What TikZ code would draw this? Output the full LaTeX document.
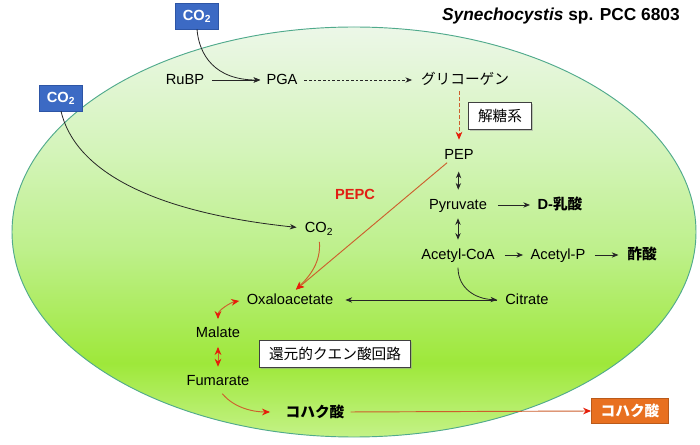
\documentclass[tikz,border=0pt]{standalone}
\usepackage{fontspec}
\setmainfont{Liberation Sans}
\newfontfamily\jpf{Noto Sans CJK JP}
\usetikzlibrary{arrows.meta,shadows}
\definecolor{cT}{RGB}{236,247,232}
\definecolor{cU}{RGB}{212,244,186}
\definecolor{cL}{RGB}{190,240,140}
\definecolor{cM}{RGB}{158,232,58}
\definecolor{cB}{RGB}{196,242,135}
\definecolor{cellborder}{RGB}{80,170,140}
\definecolor{co2blue}{RGB}{60,106,196}
\definecolor{co2border}{RGB}{45,85,165}
\definecolor{sucorange}{RGB}{232,112,32}
\definecolor{orangeline}{RGB}{205,95,45}
\definecolor{redtip}{RGB}{230,30,10}
\definecolor{pepcred}{RGB}{225,30,20}
\pgfdeclareverticalshading{cellshade}{100bp}{color(0bp)=(cB); color(25bp)=(cB); color(34bp)=(cM); color(48bp)=(cL); color(60bp)=(cU); color(75bp)=(cT); color(100bp)=(cT)}
\begin{document}
\begin{tikzpicture}[x=0.75pt,y=-0.75pt,
  font=\fontsize{11}{13}\selectfont,
  lbl/.style={inner sep=1.5pt, text height=8.5pt, text depth=1pt},
  jlbl/.style={lbl, font=\jpf\fontsize{11}{13}\selectfont},
  arr/.style={-{Stealth[length=5pt,width=4pt]}, line width=0.6pt, black!85},
  darr/.style={{Stealth[length=5pt,width=4pt]}-{Stealth[length=5pt,width=4pt]}, line width=0.6pt, black!85},
  rarr/.style={-{Stealth[length=6pt,width=5pt,color=redtip]}, line width=0.7pt, draw=orangeline},
  rdarr/.style={{Stealth[length=6pt,width=5pt,color=redtip]}-{Stealth[length=6pt,width=5pt,color=redtip]}, line width=0.7pt, draw=orangeline},
  co2box/.style={draw=co2border, fill=co2blue, text=white, font=\bfseries\fontsize{11}{13}\selectfont, minimum width=32pt, minimum height=19.5pt, inner sep=0pt},
  jbox/.style={draw=black!75, fill=white, line width=0.6pt, drop shadow={shadow xshift=1pt, shadow yshift=-1pt, fill=black!40}, font=\jpf\fontsize{11}{13}\selectfont, minimum height=20pt, inner sep=2pt}
]
\useasboundingbox (0,0) rectangle (700,445);
\fill[white] (0,0) rectangle (700,445);
% cell
\path[shading=cellshade, draw=cellborder, line width=0.7pt] (354,232) ellipse [x radius=342, y radius=205];

% title
\node[anchor=east, font=\bfseries\fontsize{13}{15}\selectfont, inner sep=0pt] (title) at (680,16) {\textit{Synechocystis} sp. PCC 6803};

% CO2 boxes
\node[co2box] (co2a) at (197,16) {CO\textsubscript{2}};
\node[co2box] (co2b) at (61,98) {CO\textsubscript{2}};

% metabolites
\node[lbl] (rubp) at (185,80) {RuBP};
\node[lbl] (pga) at (282,80) {PGA};
\node[jlbl] (glyc) at (465,80) {グリコーゲン};
\node[jbox, minimum width=47pt] (glyco) at (500,116) {解糖系};
\node[lbl] (pep) at (459,155) {PEP};
\node[lbl] (pyr) at (458,205) {Pyruvate};
\node[lbl, font=\bfseries\fontsize{11}{13}\selectfont] (lac) at (560,205) {D-{\jpf 乳酸}};
\node[lbl] (acoa) at (458,255) {Acetyl-CoA};
\node[lbl] (acp) at (558,255) {Acetyl-P};
\node[jlbl, font=\jpf\bfseries\fontsize{11}{13}\selectfont] (ace) at (642,255) {酢酸};
\node[lbl] (cit) at (527,300) {Citrate};
\node[lbl] (oaa) at (290,300) {Oxaloacetate};
\node[lbl] (co2i) at (319,228) {CO\textsubscript{2}};
\node[lbl, text=pepcred, font=\bfseries\fontsize{11}{13}\selectfont] (pepc) at (355,195) {PEPC};
\node[lbl] (mal) at (218,333) {Malate};
\node[lbl] (fum) at (218,380) {Fumarate};
\node[jlbl, font=\jpf\bfseries\fontsize{11}{13}\selectfont] (suc) at (315,412) {コハク酸};
\node[jbox, minimum width=113pt] (rtca) at (335,354) {還元的クエン酸回路};
\node[draw=sucorange!80!black, fill=sucorange, text=white, font=\jpf\bfseries\fontsize{11}{13}\selectfont, minimum width=58pt, minimum height=19pt, inner sep=0pt] (sucbox) at (630,411) {コハク酸};

% Calvin cycle
\draw[arr, shorten <=4pt, shorten >=3pt] (rubp.east) -- (pga.west);
\draw[arr, shorten >=3pt] (co2a.south) .. controls (199,55) and (215,80) .. (pga.west);
\draw[arr, dash pattern=on 2pt off 1.5pt, shorten <=3.5pt, shorten >=5pt] (pga.east) -- (glyc.west);
\draw[rarr, dash pattern=on 3pt off 1.5pt, shorten <=2pt, shorten >=5pt] (glyc.south -| pep) -- (pep.north);

% glycolysis
\draw[darr, shorten <=6pt, shorten >=5pt] (pep.south) -- (pyr.north);
\draw[darr, shorten <=3.5pt, shorten >=5pt] (pyr.south) -- (acoa.north);
\draw[arr, shorten <=6.5pt, shorten >=4pt] (pyr.east) -- (lac.west);
\draw[arr, shorten <=6pt, shorten >=4pt] (acoa.east) -- (acp.west);
\draw[arr, shorten <=5.5pt, shorten >=5pt] (acp.east) -- (ace.west);
\draw[arr, shorten <=3pt, shorten >=4.5pt] (acoa.south) .. controls (458,288) and (475,299) .. (cit.west);
\draw[arr, shorten <=4.5pt, shorten >=7.5pt] (cit.west) -- (oaa.east);

% CO2 fixation
\draw[arr, shorten >=4.5pt] (co2b.south) .. controls (75,170) and (150,212) .. (co2i.west);
\draw[rarr, shorten <=-1pt, shorten >=2pt] ([xshift=3pt]pep.south west) -- ([xshift=3pt]oaa.north);
\draw[rarr, shorten <=4pt, shorten >=2pt] (co2i.south) .. controls (321,262) and (310,276) .. ([xshift=3pt]oaa.north);

% reductive TCA
\draw[rdarr, shorten <=4pt, shorten >=4pt] (mal.north) to[out=90, in=190] (oaa.west);
\draw[rdarr, shorten <=4pt, shorten >=3.5pt] (mal.south) -- (fum.north);
\draw[rarr, shorten <=5pt, shorten >=10pt] (fum.south) to[out=-50, in=180] (suc.west);
\draw[rarr, shorten <=3pt] (suc.east) -- (sucbox.west);
\end{tikzpicture}
\end{document}
